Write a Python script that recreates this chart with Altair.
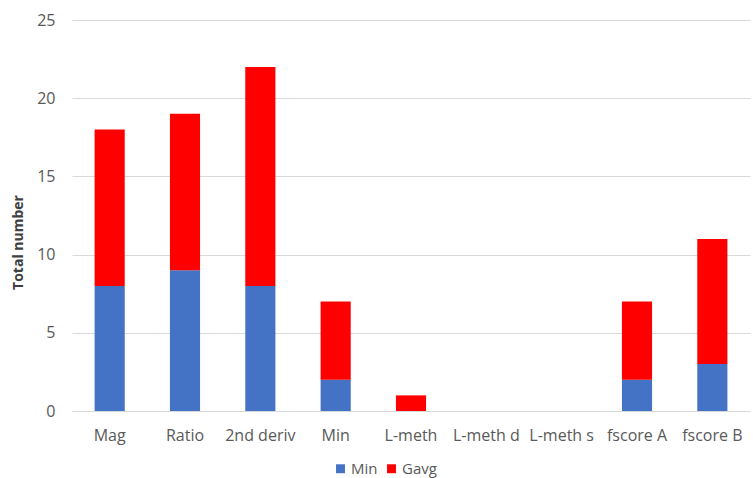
import altair as alt
import pandas as pd

categories = ["Mag", "Ratio", "2nd deriv", "Min", "L-meth", "L-meth d", "L-meth s", "fscore A", "fscore B"]
min_values = [8, 9, 8, 2, 0, 0, 0, 2, 3]
gavg_values = [10, 10, 14, 5, 1, 0, 0, 5, 8]
series = ["Min", "Gavg"]
colors = ["#4472C4", "#FF0000"]

rows = []
for cat, mn, gv in zip(categories, min_values, gavg_values):
    rows.append({"category": cat, "series": "Min", "order": 0, "value": mn})
    rows.append({"category": cat, "series": "Gavg", "order": 1, "value": gv})
df = pd.DataFrame(rows)

font = "Open Sans"

chart = alt.Chart(df).mark_bar().encode(
    x=alt.X("category:N", sort=categories,
            scale=alt.Scale(paddingInner=0.6, paddingOuter=0.3),
            axis=alt.Axis(title=None, labelAngle=0, labelFontSize=16, labelColor="#595959",
                          labelFont=font, ticks=False, domain=False, labelPadding=16)),
    y=alt.Y("value:Q", stack="zero",
            scale=alt.Scale(domain=[0, 25]),
            axis=alt.Axis(title="Total number", values=[0, 5, 10, 15, 20, 25],
                          titleFontSize=14, titleFont=font, titleColor="#404040",
                          titleFontWeight="bold", titleX=-47, titleY=222,
                          labelFontSize=16, labelColor="#595959", labelFont=font,
                          labelPadding=17,
                          ticks=False, domain=False, gridColor="#D9D9D9")),
    color=alt.Color("series:N", sort=series,
                    scale=alt.Scale(domain=series, range=colors),
                    legend=alt.Legend(title=None, orient="none", direction="horizontal",
                                      legendX=261, legendY=441, symbolType="square",
                                      symbolSize=80, labelFontSize=15, labelColor="#595959",
                                      labelFont=font, columnPadding=6, symbolStrokeWidth=0,
                                      labelOffset=3)),
    order=alt.Order("order:Q"),
).properties(
    width=678, height=391,
    padding={"left": 72, "top": 20, "right": 3, "bottom": 67},
    autosize=alt.AutoSizeParams(type="none"),
).configure_view(stroke=None)

chart.save("out.html", embed_options={"renderer": "svg", "actions": False})
